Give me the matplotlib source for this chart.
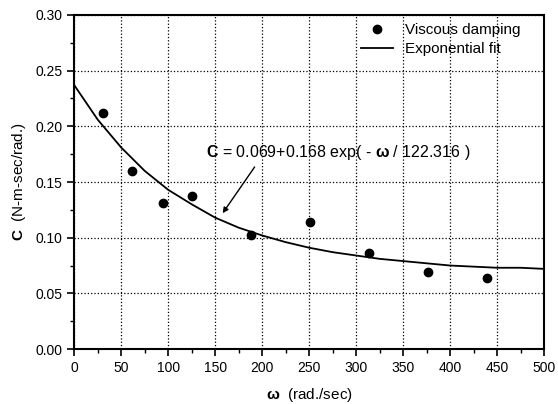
import numpy as np
import matplotlib
matplotlib.use("Agg")
from matplotlib import pyplot as plt
from matplotlib.ticker import MultipleLocator

plt.rcParams['font.family'] = ['Liberation Sans', 'DejaVu Sans']
plt.rcParams['mathtext.fontset'] = 'custom'
plt.rcParams['mathtext.rm'] = 'Liberation Sans'
plt.rcParams['mathtext.bf'] = 'Liberation Sans:bold'
plt.rcParams['mathtext.it'] = 'Liberation Sans:italic'

# measured viscous damping
omega = [31, 62, 94, 125, 188, 251, 314, 377, 439]
damping = [0.212, 0.160, 0.131, 0.137, 0.102, 0.114, 0.086, 0.069, 0.064]

# exponential fit curve
fit_omega = [0, 25, 50, 75, 100, 125, 150, 175, 200, 225, 250, 275,
             300, 325, 350, 375, 400, 425, 450, 475, 500]
fit_c = [0.237, 0.206, 0.181, 0.160, 0.143, 0.130, 0.118, 0.109, 0.102,
         0.096, 0.091, 0.087, 0.084, 0.081, 0.079, 0.077, 0.075, 0.074,
         0.073, 0.073, 0.072]

fig = plt.figure(figsize=(5.58, 4.04), dpi=100)
ax = fig.add_axes([0.133, 0.136, 0.842, 0.827])

ax.plot(omega, damping, 'o', color='black', markersize=6, label='Viscous damping')
ax.plot(fit_omega, fit_c, '-', color='black', linewidth=1.3, label='Exponential fit')

ax.set_xlim(0, 500)
ax.set_ylim(0, 0.30)
ax.xaxis.set_major_locator(MultipleLocator(50))
ax.xaxis.set_minor_locator(MultipleLocator(25))
ax.yaxis.set_major_locator(MultipleLocator(0.05))
ax.yaxis.set_minor_locator(MultipleLocator(0.025))
ax.yaxis.set_major_formatter(matplotlib.ticker.FormatStrFormatter('%.2f'))
ax.tick_params(which='major', direction='out', length=5, width=1.2, labelsize=10)
ax.tick_params(which='minor', direction='out', length=3, width=1)
ax.grid(True, which='major', linestyle=':', color='black', linewidth=0.9)

for s in ax.spines.values():
    s.set_linewidth(1.5)

ax.set_xlabel(r'$\mathbf{\omega}$  (rad./sec)', fontsize=11, labelpad=8)
ax.set_ylabel(r'$\mathbf{C}$  (N-m-sec/rad.)', fontsize=11, labelpad=5)

ax.text(140, 0.168, r'$\mathbf{C}$ = 0.069+0.168 exp( - $\mathbf{\omega}$ / 122.316 )',
        fontsize=11.5, ha='left', va='bottom')
ax.annotate('', xy=(158, 0.122), xytext=(192, 0.1635),
            arrowprops=dict(arrowstyle='-|>', color='black', lw=1, mutation_scale=8,
                            shrinkA=0, shrinkB=0))

ax.legend(loc='upper right', bbox_to_anchor=(0.95, 0.975), frameon=False,
          fontsize=11, handlelength=2.1, handletextpad=0.8,
          borderpad=0, borderaxespad=0, labelspacing=0.3)

fig.savefig('out.png', dpi=100)
